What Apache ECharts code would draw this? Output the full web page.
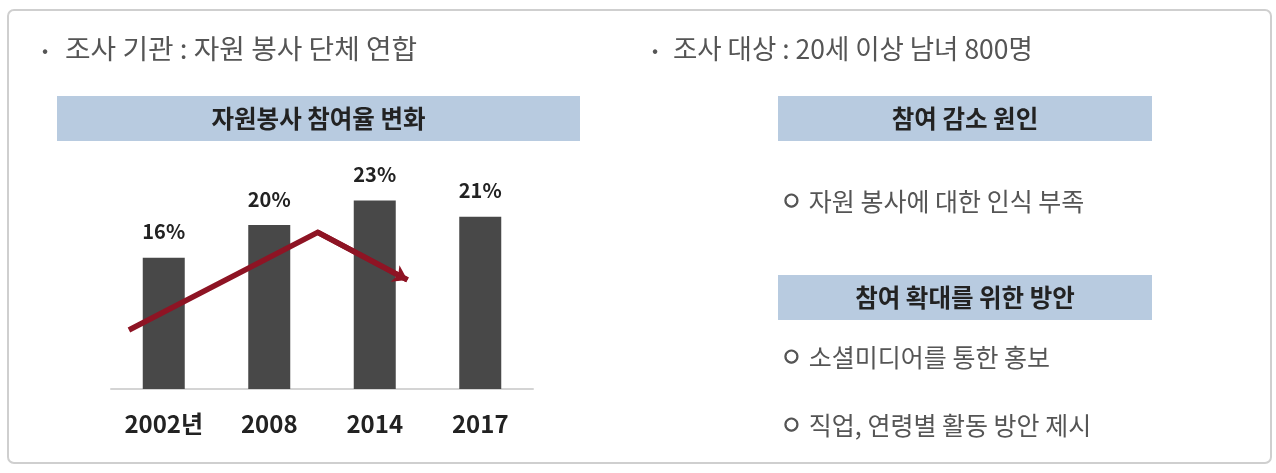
<!DOCTYPE html>
<html><head><meta charset="utf-8">
<script src="https://cdn.jsdelivr.net/npm/echarts@6/dist/echarts.min.js"></script>
<style>html,body{margin:0;padding:0;background:#fff}#c{width:1276px;height:473px}</style>
</head><body><div id="c"></div>
<script>
const categories = ['2002년', '2008', '2014', '2017'];
const rates = [16, 20, 23, 21];
const arrowX = [-0.33, 1.46, 2.31];
const arrowY = [7.2, 19.1, 13.3];
const leftTitle = '조사 기관 : 자원 봉사 단체 연합';
const rightTitle = '조사 대상 : 20세 이상 남녀 800명';
const chartHeader = '자원봉사 참여율 변화';
const reasonHeader = '참여 감소 원인';
const reasonItems = ['○ 자원 봉사에 대한 인식 부족'];
const planHeader = '참여 확대를 위한 방안';
const planItems = ['○ 소셜미디어를 통한 홍보', '○ 직업, 연령별 활동 방안 제시'];

const FONT = '"Noto Sans CJK KR", "Noto Sans", sans-serif';
const chart = echarts.init(document.getElementById('c'), null, {renderer: 'canvas'});

function txt(text, x, y, opt) {
  opt = opt || {};
  return {
    type: 'text', x: x, y: y, scaleX: opt.scaleX || 1, originX: 0,
    style: {
      text: text, fontFamily: FONT, fontSize: opt.size || 22,
      fontWeight: opt.bold ? 'bold' : 'normal', fill: opt.color || '#555',
      align: opt.align || 'left', verticalAlign: 'middle'
    }, z: 10
  };
}
function item(text, x, y) {
  const body = text.replace(/^○\s*/, '');
  return {
    type: 'text', x: x, y: y, z: 10,
    style: {
      text: '{c|○}{t|' + body + '}', align: 'left', verticalAlign: 'middle',
      fontFamily: FONT, fill: '#555',
      rich: {
        c: {fontFamily: 'DejaVu Sans', fontSize: 17, fontWeight: 'bold', fill: '#555',
            stroke: '#555', lineWidth: 1.2, verticalAlign: 'middle', padding: [0, 10, 0, 0]},
        t: {fontFamily: FONT, fontSize: 25, fill: '#555', verticalAlign: 'middle'}
      }
    }
  };
}
function header(text, x, y, w, h) {
  return [
    {type: 'rect', shape: {x: x, y: y, width: w, height: h}, style: {fill: '#b8cbe0'}, z: 5},
    {type: 'text', x: x + w / 2, y: y + h / 2,
     style: {text: text, fontFamily: FONT, fontSize: 24.5, fontWeight: 'bold', fill: '#222',
       align: 'center', verticalAlign: 'middle'}, z: 10}
  ];
}

const arrowData = arrowX.map((x, i) => [x, arrowY[i]]);

const graphics = [
  {type: 'rect', shape: {x: 8, y: 10, width: 1263, height: 453, r: 6},
   style: {fill: 'none', stroke: '#cfcfcf', lineWidth: 2}, z: 1},
  txt('•', 45, 50, {size: 18, align: 'center'}),
  txt(leftTitle, 65, 49, {size: 27, scaleX: 1.03}),
  txt('•', 655, 50, {size: 18, align: 'center'}),
  txt(rightTitle, 673, 49, {size: 27, scaleX: 0.98}),
  ...header(chartHeader, 57, 96, 523, 45),
  ...header(reasonHeader, 778, 96, 374, 45),
  ...header(planHeader, 778, 275, 374, 45),
  item(reasonItems[0], 784, 201),
  item(planItems[0], 784, 357),
  item(planItems[1], 784, 425)
];

chart.setOption({
  animation: false,
  backgroundColor: '#fff',
  grid: {left: 111, right: 743, top: 143, bottom: 84, containLabel: false},
  xAxis: [
    {type: 'category', data: categories, boundaryGap: true,
     axisLine: {show: true, lineStyle: {color: '#d4d4d4', width: 2}},
     axisTick: {show: false},
     axisLabel: {margin: 23, fontFamily: FONT, fontSize: 24, fontWeight: 'bold', color: '#222'}},
    {type: 'value', min: -0.5, max: 3.5, show: false}
  ],
  yAxis: {type: 'value', min: 0, max: 30, show: false, splitLine: {show: false}},
  series: [
    {type: 'bar', data: rates, barWidth: 42, itemStyle: {color: '#484848'},
     label: {show: true, position: 'top', distance: 16, formatter: '{c}%',
       fontFamily: FONT, fontSize: 20, fontWeight: 'bold', color: '#222'}, z: 2},
    {type: 'line', xAxisIndex: 1, data: arrowData, symbol: 'none', z: 3,
     lineStyle: {color: '#8e1424', width: 5.5, join: 'miter'},
     markLine: {silent: true, symbol: ['none', 'arrow'], symbolSize: 14,
       label: {show: false},
       lineStyle: {color: '#8e1424', width: 5.5, type: 'solid'},
       data: [[{coord: arrowData[1]}, {coord: arrowData[2]}]]}}
  ],
  graphic: graphics
});
</script></body></html>
